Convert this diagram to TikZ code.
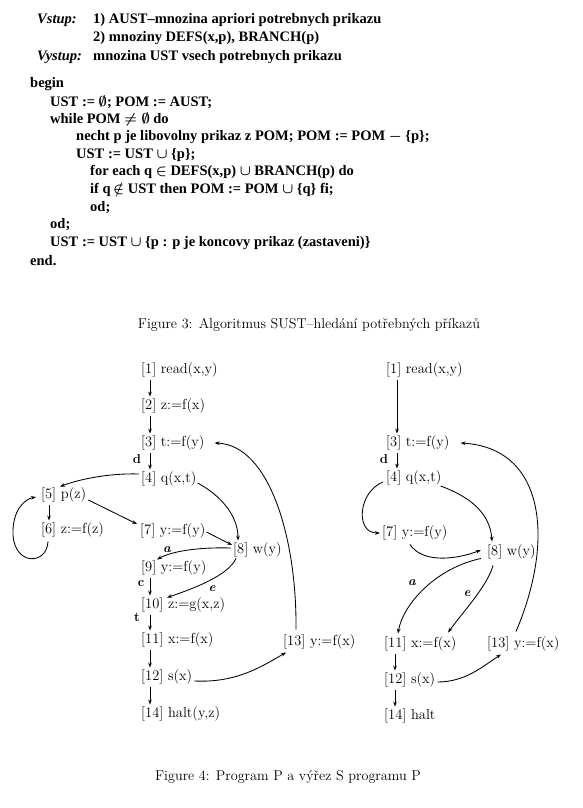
\documentclass[tikz,border=0pt]{standalone}
\usepackage{fontspec}
\newfontfamily\tms{Liberation Serif}
\usetikzlibrary{arrows.meta}
\begin{document}
\begin{tikzpicture}[x=1pt,y=-1pt,
  alg/.style={anchor=base west, inner sep=0pt, font=\tms\bfseries\boldmath\fontsize{14.5}{18}\selectfont},
  algi/.style={anchor=base west, inner sep=0pt, font=\tms\bfseries\itshape\fontsize{14.5}{18}\selectfont},
  stmt/.style={anchor=west, inner sep=1pt, text height=10.9pt, text depth=3.6pt, font=\fontsize{14.5}{17}\selectfont},
  lbl/.style={inner sep=0pt, font=\bfseries\fontsize{13}{15}\selectfont},
  lbli/.style={inner sep=0pt, font=\bfseries\itshape\fontsize{13}{15}\selectfont},
  captxt/.style={inner sep=0pt, font=\fontsize{14.2}{17}\selectfont},
  arr/.style={line width=0.85pt, -{Stealth[length=5pt,width=3.6pt]}},
  varr/.style={arr, shorten <=2pt, shorten >=1pt},
]
\fill[white] (0,0) rectangle (583,808);

% ---------- algorithm ----------
\node[algi] (vstup) at (37,24) {Vstup:};
\node[alg] (a1) at (93,24) {1) AUST–mnozina apriori potrebnych prikazu};
\node[alg] (a2) at (93,42) {2) mnoziny DEFS(x,p), BRANCH(p)};
\node[algi] (vystup) at (37,60) {Vystup:};
\node[alg] (a3) at (93,60) {mnozina UST vsech potrebnych prikazu};
\node[alg] (l1) at (30,88) {begin};
\node[alg] (l2) at (50,106) {UST := $\emptyset$; POM := AUST;};
\node[alg] (l3) at (50,123) {while POM $\neq\emptyset$ do};
\node[alg] (l4) at (76,140) {necht p je libovolny prikaz z POM; POM := POM $-$ \{p\};};
\node[alg] (l5) at (76,158) {UST := UST $\cup$ \{p\};};
\node[alg] (l6) at (90,175) {for each q $\in$ DEFS(x,p) $\cup$ BRANCH(p) do};
\node[alg] (l7) at (90,193) {if q\,$\notin$ UST then POM := POM $\cup$ \{q\} fi;};
\node[alg] (l8) at (90,211) {od;};
\node[alg] (l9) at (50,228) {od;};
\node[alg] (l10) at (50,246) {UST := UST $\cup$ \{p : p je koncovy prikaz (zastaveni)\}};
\node[alg] (l11) at (30,265) {end.};

\node[captxt] (fig3) at (309,325) {Figure 3: Algoritmus SUST–hledání potřebných příkazů};

% ---------- program P ----------
\node[stmt] (n1) at (140,370) {[1] read(x,y)};
\node[stmt] (n2) at (140,406) {[2] z:=f(x)};
\node[stmt] (n3) at (140,443) {[3] t:=f(y)};
\node[stmt] (n4) at (140,479) {[4] q(x,t)};
\node[stmt] (n5) at (40,495) {[5] p(z)};
\node[stmt] (n6) at (40,530) {[6] z:=f(z)};
\node[stmt] (n7) at (139,531) {[7] y:=f(y)};
\node[stmt] (n8) at (232,550) {[8] w(y)};
\node[stmt] (n9) at (140,568) {[9] y:=f(y)};
\node[stmt] (n10) at (140,605) {[10] z:=g(x,z)};
\node[stmt] (n11) at (140,640) {[11] x:=f(x)};
\node[stmt] (n12) at (140,677) {[12] s(x)};
\node[stmt] (n13) at (282,642) {[13] y:=f(x)};
\node[stmt] (n14) at (140,714) {[14] halt(y,z)};

\draw[varr] ([xshift=10pt]n1.south west) -- ([xshift=10pt]n2.north west);
\draw[varr] ([xshift=10pt]n2.south west) -- ([xshift=10pt]n3.north west);
\draw[varr] ([xshift=10pt]n3.south west) -- ([xshift=10pt]n4.north west);
\draw[arr] ([shift={(-1,-5)}]n4.west) .. controls (110,473) and (80,479) .. ([shift={(20,0)}]n5.north west);
\draw[varr] ([xshift=9pt]n5.south west) -- ([xshift=9pt]n6.north west);
\draw[arr] ([shift={(8,3)}]n6.south west) .. controls (47,565) and (15,566) .. (13,535) .. controls (12,510) and (25,499) .. ([shift={(-4,2)}]n5.west);
\draw[arr] ([shift={(1,5)}]n5.east) -- ([shift={(-2,-7)}]n7.west);
\draw[arr] ([shift={(0,4)}]n4.east) .. controls (220,495) and (238,515) .. ([shift={(6,-1)}]n8.north west);
\draw[arr] ([shift={(0,1)}]n7.east) -- ([shift={(0,-5)}]n8.west);
\draw[arr] ([shift={(-1,-2)}]n8.west) .. controls (200,547) and (172,551) .. ([shift={(17,0)}]n9.north west);
\draw[arr] ([shift={(4,0)}]n8.south west) .. controls (228,576) and (192,589) .. ([shift={(27,1)}]n10.north west);
\draw[varr] ([xshift=10pt]n9.south west) -- ([xshift=10pt]n10.north west);
\draw[varr] ([xshift=10pt]n10.south west) -- ([xshift=10pt]n11.north west);
\draw[varr] ([xshift=10pt]n11.south west) -- ([xshift=10pt]n12.north west);
\draw[varr] ([xshift=10pt]n12.south west) -- ([xshift=10pt]n14.north west);
\draw[arr] ([shift={(1,4)}]n12.east) .. controls (236,683) and (261,667) .. ([shift={(4,2)}]n13.south west);
\draw[arr] ([shift={(14,-4)}]n13.north west) .. controls (297,540) and (270,445) .. ([shift={(9,0)}]n3.east);

\node[lbl] (ld) at (137,459) {d};
\node[lbli] (la) at (167,550) {a};
\node[lbli] (le) at (212,589) {e};
\node[lbl] (lc) at (141,584) {c};
\node[lbl] (lt) at (137,617) {t};

% ---------- slice S ----------
\node[stmt] (m1) at (385,370) {[1] read(x,y)};
\node[stmt] (m3) at (385,443) {[3] t:=f(y)};
\node[stmt] (m4) at (385,478) {[4] q(x,t)};
\node[stmt] (m7) at (381,533) {[7] y:=f(y)};
\node[stmt] (m8) at (486,552) {[8] w(y)};
\node[stmt] (m11) at (383,644) {[11] x:=f(x)};
\node[stmt] (m13) at (486,644) {[13] y:=f(x)};
\node[stmt] (m12) at (383,680) {[12] s(x)};
\node[stmt] (m14) at (383,716) {[14] halt};

\draw[varr] ([xshift=12pt]m1.south west) -- ([xshift=12pt]m3.north west);
\draw[varr] ([xshift=12pt]m3.south west) -- ([xshift=12pt]m4.north west);
\draw[arr] ([shift={(-2,4)}]m4.west) .. controls (358,492) and (355,533) .. ([shift={(-1,0)}]m7.west);
\draw[arr] ([shift={(-2,8)}]m4.east) .. controls (468,496) and (490,512) .. ([shift={(6,-2)}]m8.north west);
\draw[arr] ([shift={(29,3)}]m7.south west) .. controls (422,563) and (455,560) .. ([shift={(-5,-2)}]m8.west);
\draw[arr] ([shift={(-5,-2)}]m8.south west) .. controls (436,568) and (403,604) .. ([shift={(15,-2)}]m11.north west);
\draw[arr] ([shift={(7,5)}]m8.south west) .. controls (488,585) and (463,612) .. ([shift={(65,-3)}]m11.north west);
\draw[arr] ([shift={(30,-4)}]m13.north west) .. controls (555,540) and (545,448) .. ([shift={(10,0)}]m3.east);
\draw[varr] ([xshift=12pt]m11.south west) -- ([xshift=12pt]m12.north west);
\draw[varr] ([xshift=12pt]m12.south west) -- ([xshift=12pt]m14.north west);
\draw[arr] ([shift={(1,2)}]m12.east) .. controls (465,682) and (482,667) .. ([shift={(15,2)}]m13.south west);

\node[lbl] (rd) at (384,459) {d};
\node[lbli] (ra) at (412,583) {a};
\node[lbli] (re) at (467,594) {e};

\node[captxt] (fig4) at (288,777) {Figure 4: Program P a výřez S programu P};
\end{tikzpicture}
\end{document}
